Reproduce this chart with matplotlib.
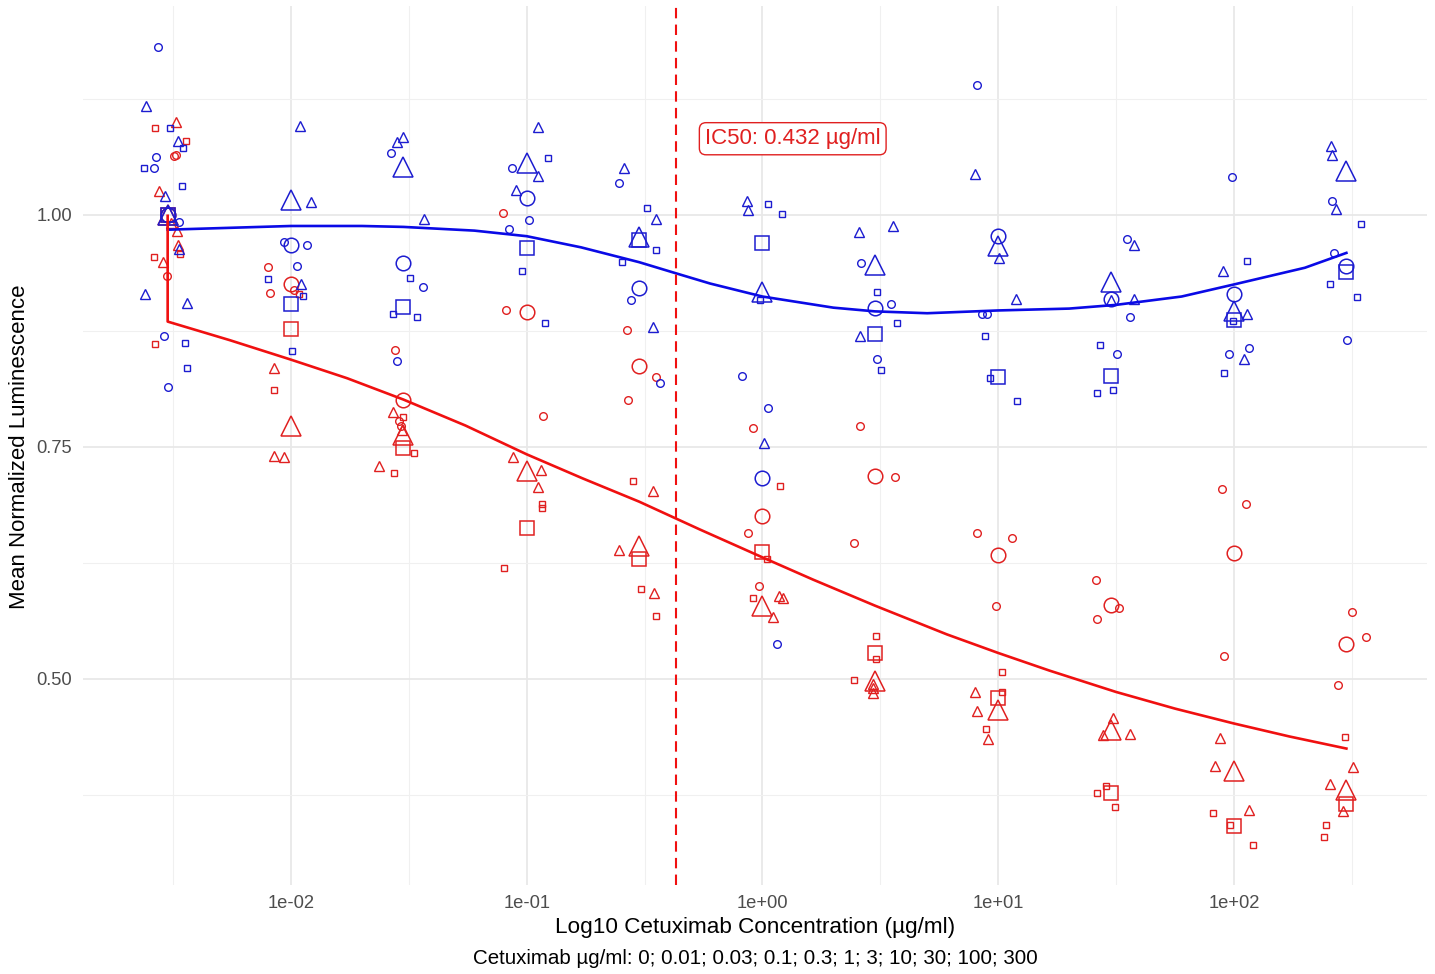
import matplotlib
matplotlib.use("Agg")
import matplotlib.pyplot as plt
from matplotlib.ticker import NullFormatter

plt.rcParams['font.family'] = ['Liberation Sans', 'DejaVu Sans']

# concentrations (0 is drawn at 0.003 on the log axis)
conc_labels = ["0", "0.01", "0.03", "0.1", "0.3", "1", "3", "10", "30", "100", "300"]
x_pos = [0.003, 0.01, 0.03, 0.1, 0.3, 1, 3, 10, 30, 100, 300]

# means per experiment (big markers)
blue_circle_mean = [1.0, 0.967, 0.948, 1.018, 0.921, 0.717, 0.900, 0.977, 0.909, 0.915, 0.945]
blue_triangle_mean = [1.0, 1.016, 1.052, 1.056, 0.976, 0.917, 0.946, 0.966, 0.928, 0.896, 1.047]
blue_square_mean = [1.0, 0.904, 0.901, 0.964, 0.973, 0.970, 0.872, 0.825, 0.826, 0.887, 0.938]
red_circle_mean = [1.0, 0.926, 0.801, 0.895, 0.837, 0.676, 0.719, 0.634, 0.580, 0.636, 0.538]
red_triangle_mean = [1.0, 0.772, 0.763, 0.724, 0.643, 0.579, 0.498, 0.467, 0.445, 0.401, 0.380]
red_square_mean = [1.0, 0.877, 0.749, 0.663, 0.629, 0.637, 0.528, 0.480, 0.377, 0.342, 0.365]

# replicates: (concentration index, jitter in decades, value)
blue_circle_reps = [
    (0, -0.042, 1.181), (0, -0.050, 1.062), (0, -0.058, 1.050), (0, 0.048, 0.992), (0, -0.014, 0.870), (0, 0.003, 0.815),
    (1, -0.030, 0.971), (1, 0.068, 0.967), (1, 0.025, 0.945),
    (2, -0.053, 1.067), (2, 0.084, 0.922), (2, -0.026, 0.843),
    (3, -0.061, 1.050), (3, 0.011, 0.994), (3, -0.075, 0.985),
    (4, -0.086, 1.034), (4, -0.036, 0.908), (4, 0.088, 0.819),
    (5, -0.086, 0.826), (5, 0.025, 0.792), (5, 0.063, 0.538),
    (6, -0.059, 0.948), (6, 0.067, 0.904), (6, 0.007, 0.845),
    (7, -0.090, 1.140), (7, -0.067, 0.893), (7, -0.048, 0.893),
    (8, 0.068, 0.974), (8, 0.081, 0.890), (8, 0.028, 0.850),
    (9, -0.007, 1.041), (9, -0.020, 0.850), (9, 0.064, 0.857),
    (10, -0.063, 1.015), (10, -0.052, 0.959), (10, 0.003, 0.865),
]
blue_triangle_reps = [
    (0, -0.092, 1.117), (0, 0.045, 1.080), (0, -0.011, 1.020), (0, 0.048, 0.963), (0, -0.096, 0.915), (0, 0.083, 0.905),
    (1, 0.038, 1.096), (1, 0.085, 1.014), (1, 0.042, 0.925),
    (2, -0.001, 1.084), (2, -0.029, 1.078), (2, 0.088, 0.996),
    (3, 0.049, 1.095), (3, 0.049, 1.042), (3, -0.046, 1.027),
    (4, -0.063, 1.050), (4, 0.070, 0.996), (4, 0.060, 0.879),
    (5, -0.067, 1.015), (5, -0.063, 1.005), (5, 0.008, 0.754),
    (6, -0.068, 0.982), (6, 0.078, 0.988), (6, -0.062, 0.869),
    (7, -0.098, 1.044), (7, 0.002, 0.953), (7, 0.076, 0.909),
    (8, 0.100, 0.967), (8, 0.098, 0.909), (8, 0.000, 0.908),
    (9, -0.045, 0.940), (9, 0.055, 0.893), (9, 0.042, 0.845),
    (10, -0.067, 1.074), (10, -0.063, 1.064), (10, -0.043, 1.006),
]
blue_square_reps = [
    (0, 0.010, 1.094), (0, 0.064, 1.072), (0, -0.102, 1.051), (0, 0.062, 1.031), (0, 0.072, 0.862), (0, 0.081, 0.835),
    (1, -0.098, 0.931), (1, 0.051, 0.913), (1, 0.004, 0.853),
    (2, 0.028, 0.932), (2, -0.046, 0.893), (2, 0.059, 0.890),
    (3, 0.091, 1.061), (3, -0.020, 0.940), (3, 0.077, 0.884),
    (4, 0.032, 1.007), (4, 0.070, 0.962), (4, -0.074, 0.949),
    (5, 0.025, 1.012), (5, 0.084, 1.001), (5, -0.011, 0.908),
    (6, 0.008, 0.917), (6, 0.093, 0.884), (6, 0.024, 0.833),
    (7, -0.057, 0.869), (7, -0.036, 0.824), (7, 0.081, 0.799),
    (8, -0.045, 0.860), (8, -0.059, 0.808), (8, 0.011, 0.811),
    (9, 0.054, 0.950), (9, -0.004, 0.886), (9, -0.040, 0.830),
    (10, 0.062, 0.990), (10, -0.071, 0.925), (10, 0.043, 0.912),
]
red_circle_reps = [
    (0, 0.027, 1.063), (0, 0.035, 1.064), (0, -0.004, 0.934),
    (1, -0.099, 0.944), (1, -0.090, 0.916), (1, 0.014, 0.919),
    (2, -0.035, 0.854), (2, -0.018, 0.778), (2, -0.009, 0.772),
    (3, -0.101, 1.002), (3, -0.087, 0.897), (3, 0.070, 0.783),
    (4, -0.053, 0.876), (4, 0.071, 0.825), (4, -0.046, 0.801),
    (5, -0.039, 0.770), (5, -0.063, 0.657), (5, -0.016, 0.600),
    (6, -0.062, 0.773), (6, 0.085, 0.718), (6, -0.088, 0.646),
    (7, -0.091, 0.657), (7, 0.059, 0.652), (7, -0.009, 0.579),
    (8, -0.062, 0.607), (8, 0.034, 0.576), (8, -0.056, 0.565),
    (9, -0.052, 0.705), (9, 0.050, 0.688), (9, -0.042, 0.525),
    (10, 0.022, 0.572), (10, 0.083, 0.545), (10, -0.037, 0.493),
]
red_triangle_reps = [
    (0, 0.035, 1.100), (0, -0.036, 1.026), (0, 0.013, 0.991), (0, 0.038, 0.983), (0, 0.042, 0.968), (0, -0.019, 0.949),
    (1, -0.073, 0.835), (1, -0.071, 0.740), (1, -0.028, 0.739),
    (2, -0.046, 0.788), (2, -0.103, 0.729), (2, -0.006, 0.768),
    (3, -0.060, 0.739), (3, 0.060, 0.725), (3, 0.048, 0.707),
    (4, -0.084, 0.639), (4, 0.060, 0.702), (4, 0.064, 0.593),
    (5, 0.071, 0.589), (5, 0.086, 0.587), (5, 0.043, 0.567),
    (6, -0.007, 0.495), (6, -0.010, 0.490), (6, -0.010, 0.485),
    (7, -0.097, 0.486), (7, -0.089, 0.465), (7, -0.042, 0.435),
    (8, 0.011, 0.458), (8, -0.034, 0.440), (8, 0.082, 0.441),
    (9, -0.058, 0.436), (9, -0.082, 0.406), (9, 0.064, 0.359),
    (10, 0.026, 0.405), (10, -0.070, 0.387), (10, -0.014, 0.358),
]
red_square_reps = [
    (0, -0.053, 1.094), (0, 0.078, 1.080), (0, 0.052, 0.958), (0, -0.058, 0.955), (0, -0.053, 0.861),
    (1, 0.034, 0.915), (1, -0.073, 0.811),
    (2, -0.001, 0.782), (2, 0.045, 0.743), (2, -0.039, 0.722),
    (3, 0.065, 0.688), (3, 0.065, 0.684), (3, -0.097, 0.619),
    (4, -0.028, 0.713), (4, 0.006, 0.597), (4, 0.071, 0.568),
    (5, 0.076, 0.708), (5, 0.018, 0.629), (5, -0.042, 0.587),
    (6, 0.006, 0.546), (6, 0.006, 0.521), (6, -0.089, 0.499),
    (7, 0.016, 0.508), (7, 0.016, 0.486), (7, -0.050, 0.446),
    (8, -0.019, 0.385), (8, -0.059, 0.377), (8, 0.017, 0.362),
    (9, -0.088, 0.356), (9, -0.017, 0.343), (9, 0.081, 0.321),
    (10, -0.006, 0.437), (10, -0.087, 0.343), (10, -0.095, 0.330),
]

# fitted curves
blue_curve_x = [0.003, 0.01, 0.02, 0.03, 0.06, 0.1, 0.17, 0.3, 0.43, 0.6, 1, 2, 3, 5,
                10, 20, 31.6, 60, 100, 200, 300]
blue_curve_y = [0.984, 0.988, 0.988, 0.987, 0.983, 0.977, 0.965, 0.949, 0.937, 0.926, 0.912, 0.900, 0.896, 0.894,
                0.897, 0.899, 0.903, 0.912, 0.925, 0.943, 0.959]
red_curve_x = [0.003, 0.003, 0.0055, 0.01, 0.0173, 0.03, 0.055, 0.1, 0.173, 0.3, 0.543, 1, 1.64, 3, 6.06,
               10, 16.5, 31.6, 56.3, 100, 172, 300]
red_curve_y = [0.999, 0.885, 0.865, 0.844, 0.824, 0.801, 0.773, 0.742, 0.716, 0.691, 0.661, 0.631, 0.607, 0.579, 0.548,
               0.528, 0.509, 0.486, 0.468, 0.452, 0.438, 0.425]

ic50 = 0.432

BLUE = '#1C1CD0'
RED = '#E02020'
W, H = 1435, 974

fig = plt.figure(figsize=(W / 100, H / 100), dpi=100)
ax = fig.add_axes([83 / W, (H - 885) / H, (1427 - 83) / W, (885 - 6) / H])
ax.set_xscale('log')
ax.set_xlim(10 ** -2.882, 10 ** 2.819)
ax.set_ylim(0.278, 1.225)
for s in ax.spines.values():
    s.set_visible(False)

ax.set_xticks([1e-2, 1e-1, 1e0, 1e1, 1e2])
ax.set_xticklabels(["1e-02", "1e-01", "1e+00", "1e+01", "1e+02"])
ax.set_xticks([10 ** (k + 0.5) for k in range(-3, 3)], minor=True)
ax.xaxis.set_minor_formatter(NullFormatter())
ax.set_yticks([0.5, 0.75, 1.0])
ax.set_yticklabels(["0.50", "0.75", "1.00"])
ax.set_yticks([0.375, 0.625, 0.875, 1.125], minor=True)
ax.tick_params(which='both', length=0, labelsize=13.2, labelcolor='#4D4D4D')
ax.tick_params(axis='x', pad=7)
ax.tick_params(axis='y', pad=8)
ax.grid(which='major', color='#E8E8E8', lw=1.3)
ax.grid(which='minor', color='#F0F0F0', lw=0.8)
ax.set_axisbelow(True)

small = {'o': 5.5, '^': 7.5, 's': 5.0}
big = {'o': 10.5, '^': 14.0, 's': 9.5}

def draw(reps, means, marker, color):
    xs = [x_pos[i] * 10 ** dx for i, dx, _ in reps]
    ys = [v for _, _, v in reps]
    ax.plot(xs, ys, ls='none', marker=marker, ms=small[marker], mfc='none', mec=color, mew=1.0)
    ax.plot(x_pos, means, ls='none', marker=marker, ms=big[marker], mfc='none', mec=color, mew=1.1)

draw(red_circle_reps, red_circle_mean, 'o', RED)
draw(red_triangle_reps, red_triangle_mean, '^', RED)
draw(red_square_reps, red_square_mean, 's', RED)
draw(blue_circle_reps, blue_circle_mean, 'o', BLUE)
draw(blue_triangle_reps, blue_triangle_mean, '^', BLUE)
draw(blue_square_reps, blue_square_mean, 's', BLUE)

ax.plot(blue_curve_x, blue_curve_y, color='#0A0AE6', lw=1.9, solid_joinstyle='round')
ax.plot(red_curve_x, red_curve_y, color='#F01010', lw=1.9, solid_joinstyle='round')
ax.axvline(ic50, color='#F01010', lw=1.5, ls=(0, (5, 3)))
ax.text(ic50 * 1.32, 1.082, f"IC50: {ic50} µg/ml", color=RED, fontsize=16,
        ha='left', va='center',
        bbox=dict(boxstyle='round,pad=0.25,rounding_size=0.3', fc='white', ec=RED, lw=1.0))

fig.text(755 / W, 1 - 927 / H, "Log10 Cetuximab Concentration (µg/ml)", ha='center', va='center', fontsize=16.2)
fig.text(20 / W, 1 - 447 / H, "Mean Normalized Luminescence", ha='center', va='center', rotation=90, fontsize=16)
fig.text(755 / W, 1 - 958 / H, "Cetuximab µg/ml: " + "; ".join(conc_labels), ha='center', va='center', fontsize=14.8)

fig.savefig("out.png", dpi=100)
